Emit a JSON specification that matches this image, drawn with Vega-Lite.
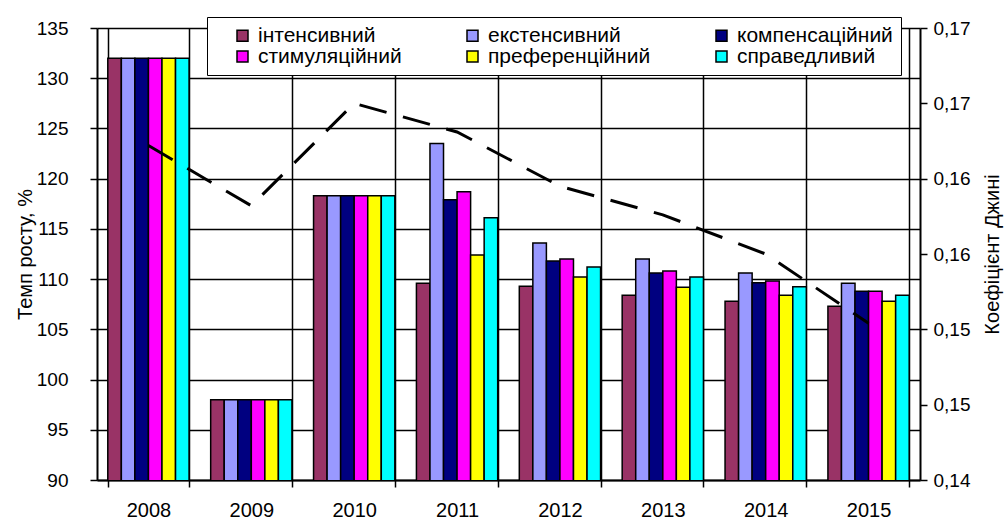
{
  "$schema": "https://vega.github.io/schema/vega-lite/v6.json",
  "width": 823,
  "height": 452,
  "autosize": {"type": "none"},
  "padding": {"left": 97, "top": 28, "right": 88, "bottom": 48},
  "background": "white",
  "config": {
    "font": "Liberation Sans",
    "view": {"stroke": null},
    "axis": {
      "labelFont": "Liberation Sans",
      "labelFontSize": 19,
      "labelColor": "#000",
      "titleFont": "Liberation Sans",
      "titleFontSize": 20,
      "titleFontWeight": "normal",
      "titleColor": "#000",
      "domainColor": "#000",
      "domainWidth": 2,
      "tickColor": "#000",
      "tickWidth": 1.5,
      "gridColor": "#000",
      "gridWidth": 1.5,
      "gridOpacity": 1
    }
  },
  "datasets": {
    "bars": [
      {"year": "2008", "series": "інтенсивний", "value": 132.0},
      {"year": "2008", "series": "екстенсивний", "value": 132.0},
      {"year": "2008", "series": "компенсаційний", "value": 132.0},
      {"year": "2008", "series": "стимуляційний", "value": 132.0},
      {"year": "2008", "series": "преференційний", "value": 132.0},
      {"year": "2008", "series": "справедливий", "value": 132.0},
      {"year": "2009", "series": "інтенсивний", "value": 98.0},
      {"year": "2009", "series": "екстенсивний", "value": 98.0},
      {"year": "2009", "series": "компенсаційний", "value": 98.0},
      {"year": "2009", "series": "стимуляційний", "value": 98.0},
      {"year": "2009", "series": "преференційний", "value": 98.0},
      {"year": "2009", "series": "справедливий", "value": 98.0},
      {"year": "2010", "series": "інтенсивний", "value": 118.3},
      {"year": "2010", "series": "екстенсивний", "value": 118.3},
      {"year": "2010", "series": "компенсаційний", "value": 118.3},
      {"year": "2010", "series": "стимуляційний", "value": 118.3},
      {"year": "2010", "series": "преференційний", "value": 118.3},
      {"year": "2010", "series": "справедливий", "value": 118.3},
      {"year": "2011", "series": "інтенсивний", "value": 109.6},
      {"year": "2011", "series": "екстенсивний", "value": 123.5},
      {"year": "2011", "series": "компенсаційний", "value": 117.9},
      {"year": "2011", "series": "стимуляційний", "value": 118.7},
      {"year": "2011", "series": "преференційний", "value": 112.4},
      {"year": "2011", "series": "справедливий", "value": 116.1},
      {"year": "2012", "series": "інтенсивний", "value": 109.3},
      {"year": "2012", "series": "екстенсивний", "value": 113.6},
      {"year": "2012", "series": "компенсаційний", "value": 111.8},
      {"year": "2012", "series": "стимуляційний", "value": 112.0},
      {"year": "2012", "series": "преференційний", "value": 110.2},
      {"year": "2012", "series": "справедливий", "value": 111.2},
      {"year": "2013", "series": "інтенсивний", "value": 108.4},
      {"year": "2013", "series": "екстенсивний", "value": 112.0},
      {"year": "2013", "series": "компенсаційний", "value": 110.6},
      {"year": "2013", "series": "стимуляційний", "value": 110.8},
      {"year": "2013", "series": "преференційний", "value": 109.2},
      {"year": "2013", "series": "справедливий", "value": 110.2},
      {"year": "2014", "series": "інтенсивний", "value": 107.8},
      {"year": "2014", "series": "екстенсивний", "value": 110.6},
      {"year": "2014", "series": "компенсаційний", "value": 109.65},
      {"year": "2014", "series": "стимуляційний", "value": 109.8},
      {"year": "2014", "series": "преференційний", "value": 108.4},
      {"year": "2014", "series": "справедливий", "value": 109.25},
      {"year": "2015", "series": "інтенсивний", "value": 107.3},
      {"year": "2015", "series": "екстенсивний", "value": 109.6},
      {"year": "2015", "series": "компенсаційний", "value": 108.8},
      {"year": "2015", "series": "стимуляційний", "value": 108.8},
      {"year": "2015", "series": "преференційний", "value": 107.8},
      {"year": "2015", "series": "справедливий", "value": 108.4}
    ],
    "gini": [
      {"year": "2008", "gini": 0.1622},
      {"year": "2009", "gini": 0.1582},
      {"year": "2010", "gini": 0.1650},
      {"year": "2011", "gini": 0.1631},
      {"year": "2012", "gini": 0.1595},
      {"year": "2013", "gini": 0.1576},
      {"year": "2014", "gini": 0.1550},
      {"year": "2015", "gini": 0.1504}
    ]
  },
  "layer": [
    {
      "data": {"name": "bars"},
      "mark": {"type": "bar", "stroke": "#000", "strokeWidth": 1.5, "clip": true},
      "encoding": {
        "x": {
          "field": "year",
          "type": "nominal",
          "scale": {"paddingInner": 0.21, "paddingOuter": 0.105},
          "axis": {"title": null, "labelAngle": 0, "labelFontSize": 20, "tickBand": "extent", "grid": true, "tickSize": 7, "labelPadding": 13}
        },
        "xOffset": {
          "field": "series",
          "type": "nominal",
          "sort": ["інтенсивний", "екстенсивний", "компенсаційний", "стимуляційний", "преференційний", "справедливий"],
          "scale": {"paddingInner": 0, "paddingOuter": 0}
        },
        "y": {
          "field": "value",
          "type": "quantitative",
          "scale": {"domain": [90, 135], "nice": false, "zero": false},
          "axis": {"title": "Темп росту, %", "values": [90, 95, 100, 105, 110, 115, 120, 125, 130, 135], "grid": true, "tickSize": 7, "labelPadding": 22, "titlePadding": 1}
        },
        "color": {
          "field": "series",
          "type": "nominal",
          "sort": ["інтенсивний", "екстенсивний", "компенсаційний", "стимуляційний", "преференційний", "справедливий"],
          "scale": {
            "domain": ["інтенсивний", "екстенсивний", "компенсаційний", "стимуляційний", "преференційний", "справедливий"],
            "range": ["#993366", "#9999FF", "#000080", "#FF00FF", "#FFFF00", "#00FFFF"]
          },
          "legend": {
            "title": null,
            "orient": "none",
            "legendX": 110,
            "legendY": -11,
            "direction": "horizontal",
            "columns": 3,
            "gridAlign": "each",
            "columnPadding": 43,
            "rowPadding": -1,
            "symbolType": "square",
            "symbolSize": 121,
            "symbolOffset": 17,
            "symbolStrokeColor": "#000",
            "symbolStrokeWidth": 1.5,
            "symbolOpacity": 1,
            "labelFont": "Liberation Sans",
            "labelFontSize": 21,
            "labelColor": "#000",
            "labelOffset": 5,
            "labelLimit": 300,
            "strokeColor": "#000",
            "fillColor": "#fff",
            "padding": 8
          }
        }
      }
    },
    {
      "data": {"name": "gini"},
      "mark": {"type": "line", "color": "#000", "strokeWidth": 3, "strokeDash": [28, 17], "strokeCap": "butt"},
      "encoding": {
        "x": {"field": "year", "type": "nominal"},
        "y": {
          "field": "gini",
          "type": "quantitative",
          "scale": {"domain": [0.14, 0.17], "nice": false, "zero": false},
          "axis": {
            "orient": "right",
            "title": "Коефіцієнт Джині",
            "titleAngle": 270,
            "titleBaseline": "top",
            "titlePadding": 13,
            "values": [0.14, 0.145, 0.15, 0.155, 0.16, 0.165, 0.17],
            "labelExpr": "replace(format(datum.value + 0.0001, '.2f'), '.', ',')",
            "grid": false,
            "tickSize": 7,
            "labelPadding": 6
          }
        }
      }
    }
  ],
  "resolve": {"scale": {"y": "independent"}}
}
